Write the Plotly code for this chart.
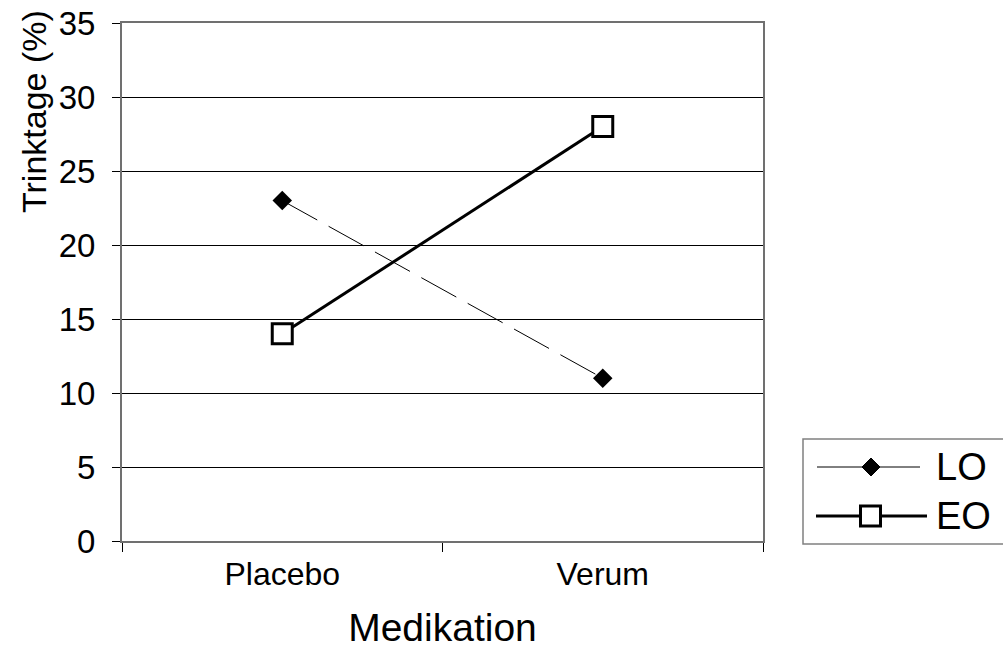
import plotly.graph_objects as go

# Data
categories = ["Placebo", "Verum"]
lo_values = [23, 11]
eo_values = [14, 28]
series_names = ["LO", "EO"]
y_ticks = [0, 5, 10, 15, 20, 25, 30, 35]

FONT = "Liberation Sans, Arial, sans-serif"
W, H = 1003, 649
L, R, T, B = 122, 763, 23, 541  # plot area edges in pixels


def px_x(px):
    """Pixel column -> paper x."""
    return (px - L) / (R - L)


def px_y(py):
    """Pixel row -> paper y."""
    return (B - py) / (B - T)


fig = go.Figure()

fig.add_trace(go.Scatter(
    x=categories, y=lo_values, name=series_names[0], mode="lines+markers",
    line=dict(color="black", width=1, dash="40px,13px"),
    marker=dict(symbol="diamond", size=15, color="black"),
    showlegend=False,
))
fig.add_trace(go.Scatter(
    x=categories, y=eo_values, name=series_names[1], mode="lines+markers",
    line=dict(color="black", width=3),
    marker=dict(symbol="square", size=20, color="white",
                line=dict(color="black", width=3)),
    showlegend=False,
))

# Hand-built legend box (long swatch lines like the original layout)
row_lo, row_eo = 467, 516
fig.add_shape(type="rect", xref="paper", yref="paper",
              x0=px_x(803), x1=px_x(1012), y0=px_y(544), y1=px_y(439),
              line=dict(color="#808080", width=1.5), fillcolor="white")

# LO row
fig.add_shape(type="line", xref="paper", yref="paper",
              x0=px_x(817), x1=px_x(920), y0=px_y(row_lo), y1=px_y(row_lo),
              line=dict(color="black", width=1))
d = 9
fig.add_shape(type="path", xref="paper", yref="paper",
              path=(f"M {px_x(871 - d)} {px_y(row_lo)} L {px_x(871)} {px_y(row_lo - d)} "
                    f"L {px_x(871 + d)} {px_y(row_lo)} L {px_x(871)} {px_y(row_lo + d)} Z"),
              line=dict(color="black", width=1), fillcolor="black")
# EO row
fig.add_shape(type="line", xref="paper", yref="paper",
              x0=px_x(816), x1=px_x(927), y0=px_y(row_eo), y1=px_y(row_eo),
              line=dict(color="black", width=3))
s = 10
fig.add_shape(type="rect", xref="paper", yref="paper",
              x0=px_x(870.5 - s), x1=px_x(870.5 + s),
              y0=px_y(row_eo + s), y1=px_y(row_eo - s),
              line=dict(color="black", width=3), fillcolor="white")

for name, py in zip(series_names, [row_lo, row_eo]):
    fig.add_annotation(x=px_x(934), y=px_y(py), xref="paper", yref="paper",
                       text=name, showarrow=False, xanchor="left", yanchor="middle",
                       font=dict(family=FONT, size=38, color="black"))

# Y-axis title sits near the top of the axis
fig.add_annotation(x=px_x(34), y=px_y(112), xref="paper", yref="paper",
                   text="Trinktage (%)", textangle=-90, showarrow=False,
                   xanchor="center", yanchor="middle",
                   font=dict(family=FONT, size=34, color="black"))

fig.update_layout(
    width=W, height=H,
    margin=dict(l=L, r=W - R, t=T, b=H - B, pad=0, autoexpand=False),
    paper_bgcolor="white", plot_bgcolor="white",
    font=dict(family=FONT, color="black"),
    xaxis=dict(
        type="category", tickson="boundaries", ticks="outside", ticklen=9,
        tickcolor="black", tickwidth=1, automargin=False,
        showline=True, linecolor="#707070", linewidth=2, mirror=True,
        showgrid=False, tickfont=dict(size=32), ticklabelstandoff=4,
        title=dict(text="Medikation", font=dict(size=39), standoff=27),
        range=[-0.5, 1.5],
    ),
    yaxis=dict(
        range=[0, 35], tickvals=y_ticks, ticks="outside", ticklen=8,
        tickcolor="black", tickwidth=1, automargin=False,
        showline=True, linecolor="#707070", linewidth=2, mirror=True,
        showgrid=True, gridcolor="black", gridwidth=1,
        zeroline=False, tickfont=dict(size=33), ticklabelstandoff=10,
    ),
    showlegend=False,
)

fig.write_html("out.html")
